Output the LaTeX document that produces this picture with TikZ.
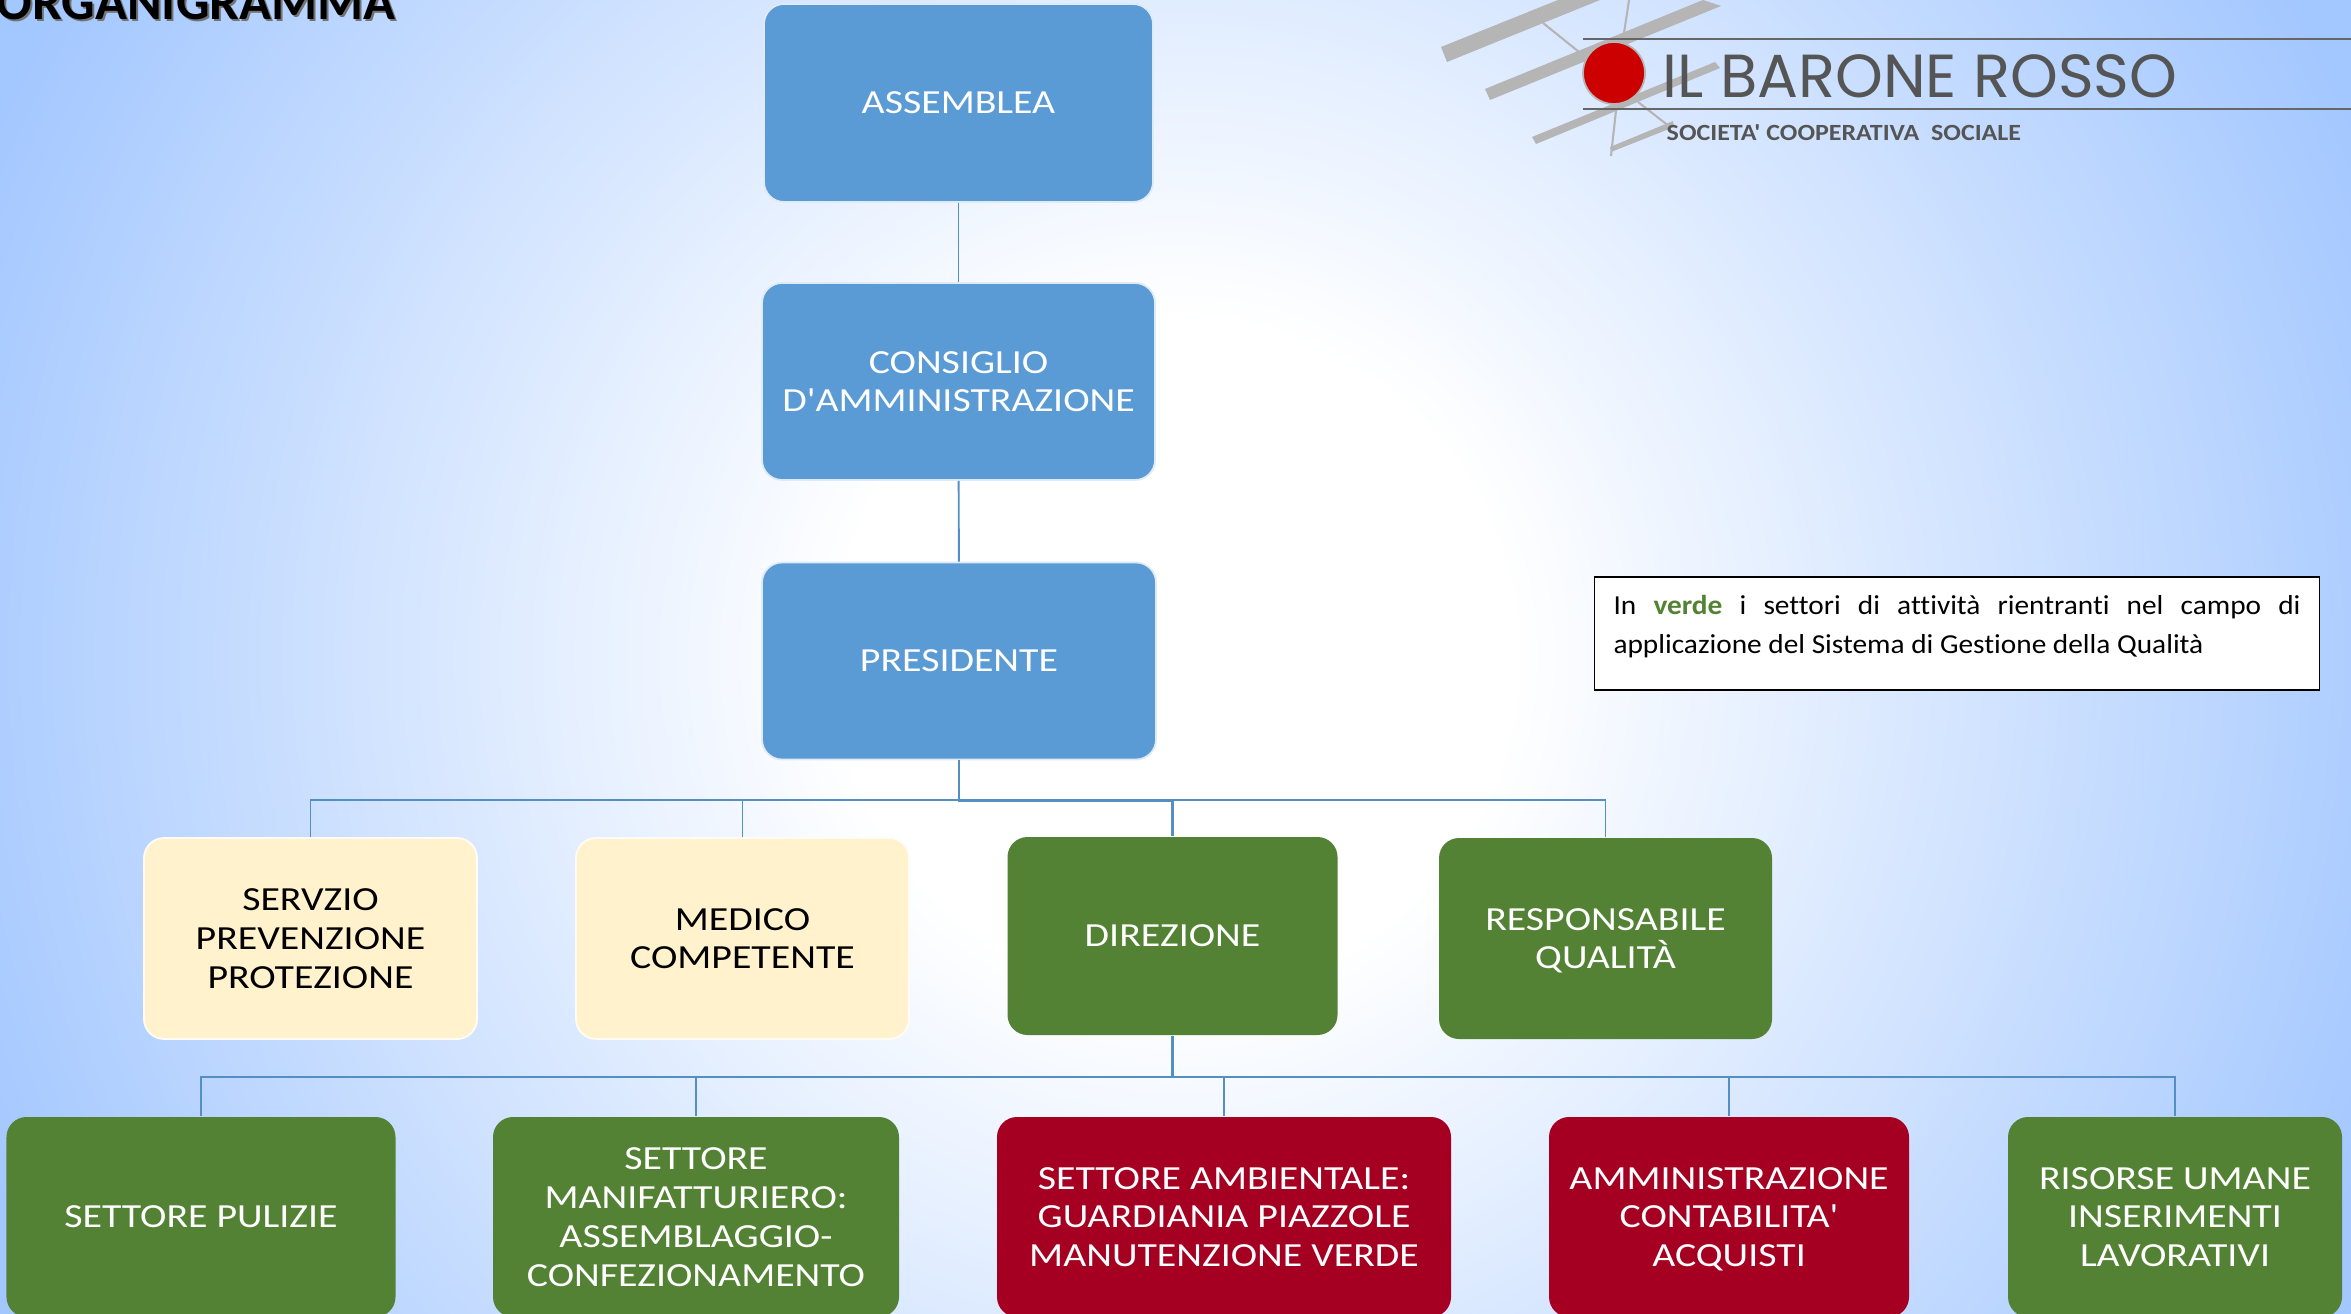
\documentclass[tikz,border=0pt]{standalone}
\usepackage{fontspec}
\setmainfont{Carlito}
\newfontfamily\logofont{Poppins}
\newfontfamily\boxfont[FakeStretch=1.18, Ligatures=NoCommon]{Carlito}
\newfontfamily\notefont[FakeStretch=1.07, Ligatures=NoCommon]{Carlito}
\newfontfamily\subfont[FakeStretch=1.12, Ligatures=NoCommon]{Carlito}
\usetikzlibrary{positioning}

\definecolor{sfondo}{HTML}{A3C7FF}
\definecolor{azzurro}{HTML}{5B9BD5}
\definecolor{verde}{HTML}{548235}
\definecolor{rosso}{HTML}{A50021}
\definecolor{crema}{HTML}{FFF2CC}
\definecolor{grigio}{HTML}{B5B5B5}
\definecolor{scuro}{HTML}{555555}

\pgfdeclareradialshading{alone}{\pgfpoint{0bp}{0bp}}{color(0bp)=(white); color(7bp)=(white); color(27bp)=(sfondo); color(50bp)=(sfondo)}

\tikzset{
	box/.style={rounded corners=0.2cm, inner sep=0pt, align=center, text depth=0pt, font=\boxfont\fontsize{9.6}{11.05}\selectfont},
	bluebox/.style={box, fill=azzurro, draw=white!80!azzurro, line width=0.5pt, text=white},
	creambox/.style={box, fill=crema, draw=white!80!crema, line width=0.5pt, text=black, minimum width=3.33cm, minimum height=2.01cm},
	greenbox/.style={box, fill=verde, text=white},
	redbox/.style={box, fill=rosso, text=white},
	conn/.style={draw=azzurro!92!black, line width=0.55pt},
	trunk/.style={draw=azzurro!92!black, line width=0.8pt},
	strip/.style={fill=grigio, draw=none},
	strut/.style={draw=grigio, line width=0.6pt},
	rule/.style={draw=scuro!90!white, line width=0.7pt}
}

\begin{document}
\begin{tikzpicture}
	\useasboundingbox (0,0) rectangle (23.51,13.13);
	\begin{scope}
		\clip (0,0) rectangle (23.51,13.13);
		\shade[shading=alone] (-0.245,-5.435) rectangle (23.755,18.565);
	\end{scope}

	\node[font=\fontsize{15}{18}\selectfont\bfseries, text=black!55, anchor=base east, inner sep=0pt] (titleshadow) at (3.98,12.91) {ORGANIGRAMMA};
	\node[font=\fontsize{15}{18}\selectfont\bfseries, anchor=base east, inner sep=0pt] (title) at (3.96,12.93) {ORGANIGRAMMA};

	\fill[strip] (14.41,12.66)--(14.47,12.51)--(16.00,13.13)--(15.58,13.13)--cycle;
	\fill[strip] (14.85,12.24)--(14.90,12.13)--(17.21,13.07)--(17.03,13.13)--cycle;
	\fill[strip] (15.32,11.76)--(15.36,11.69)--(17.20,12.45)--(17.15,12.51)--cycle;
	\fill[strip] (16.10,11.66)--(16.11,11.61)--(16.74,11.86)--(16.73,11.92)--cycle;
	\draw[strut] (15.43,12.90)--(15.79,12.61);
	\draw[strut] (16.29,13.13)--(16.24,12.80);
	\draw[strut] (16.38,12.11)--(16.70,11.86);
	\draw[strut] (16.16,12.03)--(16.11,11.57);
	\draw[rule] (15.83,12.74)--(23.51,12.74);
	\draw[rule] (15.83,12.04)--(23.51,12.04);
	\node[circle, fill=red!80!black, draw=grigio, line width=0.5pt, minimum size=0.62cm, inner sep=0pt] (sole) at (16.14,12.40) {};
	\node[font=\logofont\fontsize{17.3}{20}\selectfont, text=scuro, anchor=base west, inner sep=0pt] (barone) at (16.62,12.15) {IL BARONE ROSSO};
	\node[font=\subfont\fontsize{6.6}{8}\selectfont\bfseries, text=scuro, anchor=base west, inner sep=0pt] (societa) at (16.66,11.72) {SOCIETA' COOPERATIVA\ \ SOCIALE};

	\node[bluebox, minimum width=3.89cm, minimum height=1.98cm] (assemblea) at (9.585,12.10) {ASSEMBLEA};
	\node[bluebox, minimum width=3.93cm, minimum height=1.97cm] (consiglio) at (9.585,9.315) {CONSIGLIO\\D'AMMINISTRAZIONE};
	\node[bluebox, minimum width=3.94cm, minimum height=1.97cm] (presidente) at (9.59,6.52) {PRESIDENTE};

	\node[creambox] (servizio) at (3.105,3.745) {SERVZIO\\PREVENZIONE\\PROTEZIONE};
	\node[creambox] (medico) at (7.425,3.745) {MEDICO\\COMPETENTE};
	\node[greenbox, minimum width=3.30cm, minimum height=1.98cm] (direzione) at (11.725,3.77) {DIREZIONE};
	\node[greenbox, minimum width=3.33cm, minimum height=2.01cm] (responsabile) at (16.055,3.745) {RESPONSABILE\\QUALITÀ};

	\node[greenbox, minimum width=3.89cm, minimum height=2.0cm] (pulizie) at (2.01,0.96) {SETTORE PULIZIE};
	\node[greenbox, minimum width=4.06cm, minimum height=2.0cm] (manifatturiero) at (6.96,0.96) {SETTORE\\MANIFATTURIERO:\\ASSEMBLAGGIO-\\CONFEZIONAMENTO};
	\node[redbox, minimum width=4.54cm, minimum height=2.0cm] (ambientale) at (12.24,0.96) {SETTORE AMBIENTALE:\\GUARDIANIA PIAZZOLE\\MANUTENZIONE VERDE};
	\node[redbox, minimum width=3.60cm, minimum height=2.0cm] (amministrazione) at (17.29,0.96) {AMMINISTRAZIONE\\CONTABILITA'\\ACQUISTI};
	\node[greenbox, minimum width=3.34cm, minimum height=2.0cm] (risorse) at (21.75,0.96) {RISORSE UMANE\\INSERIMENTI\\LAVORATIVI};

	\node[draw=black, fill=white, line width=0.5pt, inner xsep=0.19cm, inner ysep=0pt, text width=6.87cm, text height=0.38cm, text depth=0.75cm, align=justify, font=\notefont\fontsize{7.8}{10.9}\selectfont] (legenda) at (19.57,6.795) {In \textbf{\textcolor{verde}{verde}} i settori di attività rientranti nel campo di\linebreak applicazione del Sistema di Gestione della Qualità};

	\draw[conn] (assemblea)--(consiglio);
	\draw[conn] (consiglio)--(presidente);
	\foreach \child in {servizio,medico,responsabile}
		\draw[conn] (presidente.south)--++(0,-0.4)-|(\child.north);
	\draw[trunk] (presidente.south)--++(0,-0.4)-|(direzione.north);
	\foreach \child in {pulizie,manifatturiero,ambientale,amministrazione,risorse}
		\draw[conn] (direzione.south)--++(0,-0.41)-|(\child.north);
	\draw[trunk] (direzione.south)--++(0,-0.41);
\end{tikzpicture}
\end{document}
